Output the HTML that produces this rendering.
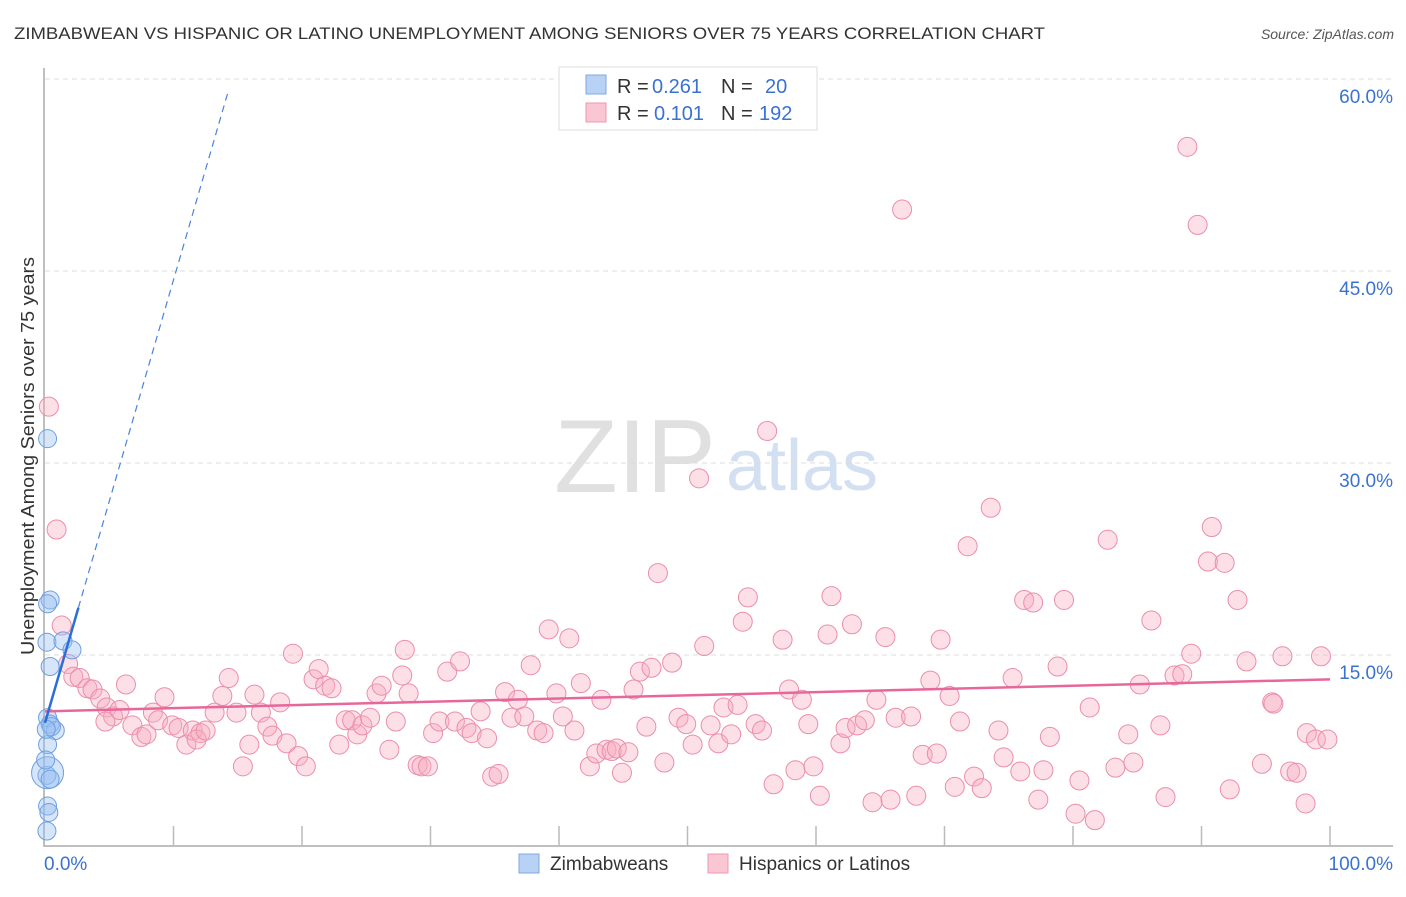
<!DOCTYPE html>
<html><head><meta charset="utf-8"><style>
body{margin:0;background:#fff;font-family:"Liberation Sans",sans-serif}
svg text{font-family:"Liberation Sans",sans-serif}
</style></head><body>
<svg width="1406" height="892" xmlns="http://www.w3.org/2000/svg">
<text x="14" y="39" font-size="17" fill="#333" textLength="1031" lengthAdjust="spacingAndGlyphs">ZIMBABWEAN VS HISPANIC OR LATINO UNEMPLOYMENT AMONG SENIORS OVER 75 YEARS CORRELATION CHART</text>
<text x="1394" y="39" font-size="14" fill="#555" font-style="italic" text-anchor="end">Source: ZipAtlas.com</text>
<g><text x="635" y="492" font-size="104" fill="#e0e0e0" font-family="Liberation Serif" text-anchor="middle">ZIP</text><text x="802" y="490" font-size="72" fill="#d3e0f2" text-anchor="middle">atlas</text></g>
<g id="grid"></g>
<g id="axes"></g>
<g id="pts"></g>
<g id="trend"></g>
<text transform="translate(34,456) rotate(-90)" font-size="18" fill="#333" text-anchor="middle" textLength="398" lengthAdjust="spacingAndGlyphs">Unemployment Among Seniors over 75 years</text>
<g>
<rect x="559" y="67" width="258" height="63" fill="#fff" stroke="#ddd"/>
<rect x="586" y="75" width="20" height="19" fill="#b8d2f6" stroke="#7ea8e3"/>
<rect x="586" y="103" width="20" height="19" fill="#fbc6d4" stroke="#ee9ab2"/>
<text x="617" y="93" font-size="20" fill="#333">R =</text>
<text x="652" y="93" font-size="20" fill="#3a72d2">0.261</text>
<text x="721" y="93" font-size="20" fill="#333">N =</text>
<text x="765" y="93" font-size="20" fill="#3a72d2">20</text>
<text x="617" y="120" font-size="20" fill="#333">R =</text>
<text x="654" y="120" font-size="20" fill="#3a72d2">0.101</text>
<text x="721" y="120" font-size="20" fill="#333">N =</text>
<text x="759" y="120" font-size="20" fill="#3a72d2">192</text>
</g>
<g>
<rect x="519" y="854" width="20" height="19" fill="#b8d2f6" stroke="#7ea8e3"/>
<text x="550" y="870" font-size="19" fill="#333">Zimbabweans</text>
<rect x="708" y="854" width="20" height="19" fill="#fbc6d4" stroke="#ee9ab2"/>
<text x="739" y="870" font-size="19" fill="#333">Hispanics or Latinos</text>
</g>
</svg>
<script>
const yTicks=[15,30,45,60];
const yTickLabels=["15.0%","30.0%","45.0%","60.0%"];
const blueX=[0.2,0.4,0.2,0.15,1.4,2.1,0.4,0.2,0.4,0.8,0.2,0.15,0.2,0.4,0.2,0.3,0.15,0.5,0.1,0.05];
const blueY=[31.9,19.3,19.0,16.0,16.1,15.4,14.1,10.1,9.6,9.1,8.0,5.6,5.8,5.3,3.2,2.7,1.25,9.4,9.2,6.8];
const pinkX=[0.3,0.9,1.3,1.8,2.2,2.7,3.3,3.7,4.3,6.3,4.8,5.3,4.7,5.8,6.8,7.5,7.9,8.4,9.3,8.8,9.9,10.4,11.0,11.5,12.1,11.8,12.5,13.2,13.8,14.3,14.9,15.4,15.9,16.3,16.8,17.3,17.7,18.3,18.8,19.3,19.7,20.3,20.9,21.3,21.8,22.3,22.9,23.4,23.9,24.3,24.7,25.3,25.8,26.2,26.8,27.3,27.8,28.3,28.0,29.0,29.3,29.8,30.2,30.7,31.3,31.9,32.3,32.8,33.2,33.9,34.4,34.8,35.3,35.8,36.3,36.8,37.3,37.8,38.3,38.8,39.2,39.8,40.3,40.8,41.2,41.7,42.4,42.9,43.3,43.7,44.1,44.5,44.9,45.4,45.8,46.3,46.8,47.2,47.7,48.2,48.8,49.3,49.9,50.4,50.9,51.3,51.8,52.4,52.8,53.4,53.9,54.3,54.7,55.3,55.8,56.2,56.7,57.4,57.9,58.4,58.9,59.4,59.8,60.3,60.9,61.2,61.9,62.3,62.8,63.2,63.8,64.4,64.7,65.4,65.8,66.2,66.7,67.4,67.8,68.3,68.9,69.4,69.7,70.4,70.8,71.2,71.8,72.3,72.9,73.6,74.2,74.6,75.3,75.9,76.2,76.9,77.3,77.7,78.2,78.8,79.3,80.2,80.5,81.3,81.7,82.7,83.3,84.3,84.7,85.2,86.1,86.8,87.2,87.9,88.5,88.9,89.2,89.7,90.5,90.8,91.8,92.2,92.8,93.5,94.7,95.5,95.6,96.3,96.9,97.4,98.1,98.2,98.9,99.3,99.8];
const pinkY=[34.4,24.8,17.3,14.3,13.3,13.2,12.4,12.3,11.6,12.7,10.9,10.2,9.8,10.7,9.5,8.6,8.8,10.5,11.7,9.9,9.5,9.3,8.0,9.1,8.9,8.4,9.1,10.5,11.8,13.2,10.5,6.3,8.0,11.9,10.5,9.4,8.7,11.3,8.1,15.1,7.1,6.3,13.1,13.9,12.6,12.4,8.0,9.9,9.9,8.8,9.5,10.1,12.0,12.6,7.6,9.8,13.4,12.0,15.4,6.4,6.3,6.3,8.9,9.8,13.7,9.8,14.5,9.3,8.9,10.6,8.5,5.5,5.7,12.1,10.1,11.5,10.2,14.2,9.1,8.9,17.0,12.0,10.2,16.3,9.1,12.8,6.3,7.3,11.5,7.6,7.5,7.7,5.8,7.4,12.3,13.7,9.4,14.0,21.4,6.6,14.4,10.1,9.6,8.0,28.8,15.7,9.5,8.1,10.9,8.8,11.1,17.6,19.5,9.6,9.1,32.5,4.9,16.2,12.3,6.0,11.5,9.6,6.3,4.0,16.6,19.6,8.1,9.3,17.4,9.5,9.9,3.5,11.5,16.4,3.7,10.1,49.8,10.2,4.0,7.2,13.0,7.3,16.2,11.8,4.7,9.8,23.5,5.5,4.6,26.5,9.1,7.0,13.2,5.9,19.3,19.1,3.7,6.0,8.6,14.1,19.3,2.6,5.2,10.9,2.1,24.0,6.2,8.8,6.6,12.7,17.7,9.5,3.9,13.4,13.5,54.7,15.1,48.6,22.3,25.0,22.2,4.5,19.3,14.5,6.5,11.3,11.2,14.9,5.9,5.8,3.4,8.9,8.4,14.9,8.4];
const blueSizes=[9,9,9,9,9,9,9,9,9,9,9,9,9,9,9,9,9,9,9,9];
blueSizes[12]=16;
const NS="http://www.w3.org/2000/svg";
const X=v=>45+v*12.85, Y=v=>847-v*12.8;
function mk(tag,a,parent){const e=document.createElementNS(NS,tag);for(const k in a)e.setAttribute(k,a[k]);document.getElementById(parent).appendChild(e);return e;}
yTicks.forEach((t,i)=>{
 let l=mk('line',{x1:45,x2:1393,y1:Y(t),y2:Y(t),stroke:'#ddd','stroke-dasharray':'5,4'},'grid');
 
 
 let tx=mk('text',{x:1393,y:Y(t)+24,'font-size':19,fill:'#3a72d2','text-anchor':'end'},'grid');
 tx.textContent=yTickLabels[i];
 
 
});
let ax=mk('path',{d:'M44 68 V846 H1393',fill:'none',stroke:'#aaa','stroke-width':1.5},'axes');


for(let i=1;i<=10;i++){let t=mk('line',{x1:X(i*10),x2:X(i*10),y1:826,y2:846,stroke:'#bbb','stroke-width':1.5},'axes');
 
 }
let x0=mk('text',{x:44,y:870,'font-size':19,fill:'#3a72d2'},'axes');x0.textContent='0.0%';


let x1=mk('text',{x:1393,y:870,'font-size':19,fill:'#3a72d2','text-anchor':'end'},'axes');x1.textContent='100.0%';


pinkX.forEach((v,i)=>{let c=mk('circle',{cx:X(v),cy:Y(pinkY[i]),r:9.5,fill:'rgba(248,170,192,0.38)',stroke:'#eb8eaa','stroke-width':1},'pts');
 
 });
blueX.forEach((v,i)=>{let c=mk('circle',{cx:X(v),cy:Y(blueY[i]),r:blueSizes[i],fill:'rgba(150,190,242,0.4)',stroke:'#6e9fe0','stroke-width':1},'pts');
 
 });
const pinkTrend=[10.6,13.1], blueTrend=[9.7,3.46];
let pt=mk('line',{x1:X(0),y1:Y(pinkTrend[0]),x2:X(100),y2:Y(pinkTrend[1]),stroke:'#e8679a','stroke-width':2.5},'trend');


let bd=mk('line',{x1:X(2.6),y1:Y(blueTrend[0]+blueTrend[1]*2.6),x2:X(14.3),y2:Y(blueTrend[0]+blueTrend[1]*14.3),stroke:'#4a82de','stroke-width':1.2,'stroke-dasharray':'7,5'},'trend');


let bt=mk('line',{x1:X(0),y1:Y(blueTrend[0]),x2:X(2.6),y2:Y(blueTrend[0]+blueTrend[1]*2.6),stroke:'#2b6fd6','stroke-width':2.5},'trend');


</script>
</body></html>
